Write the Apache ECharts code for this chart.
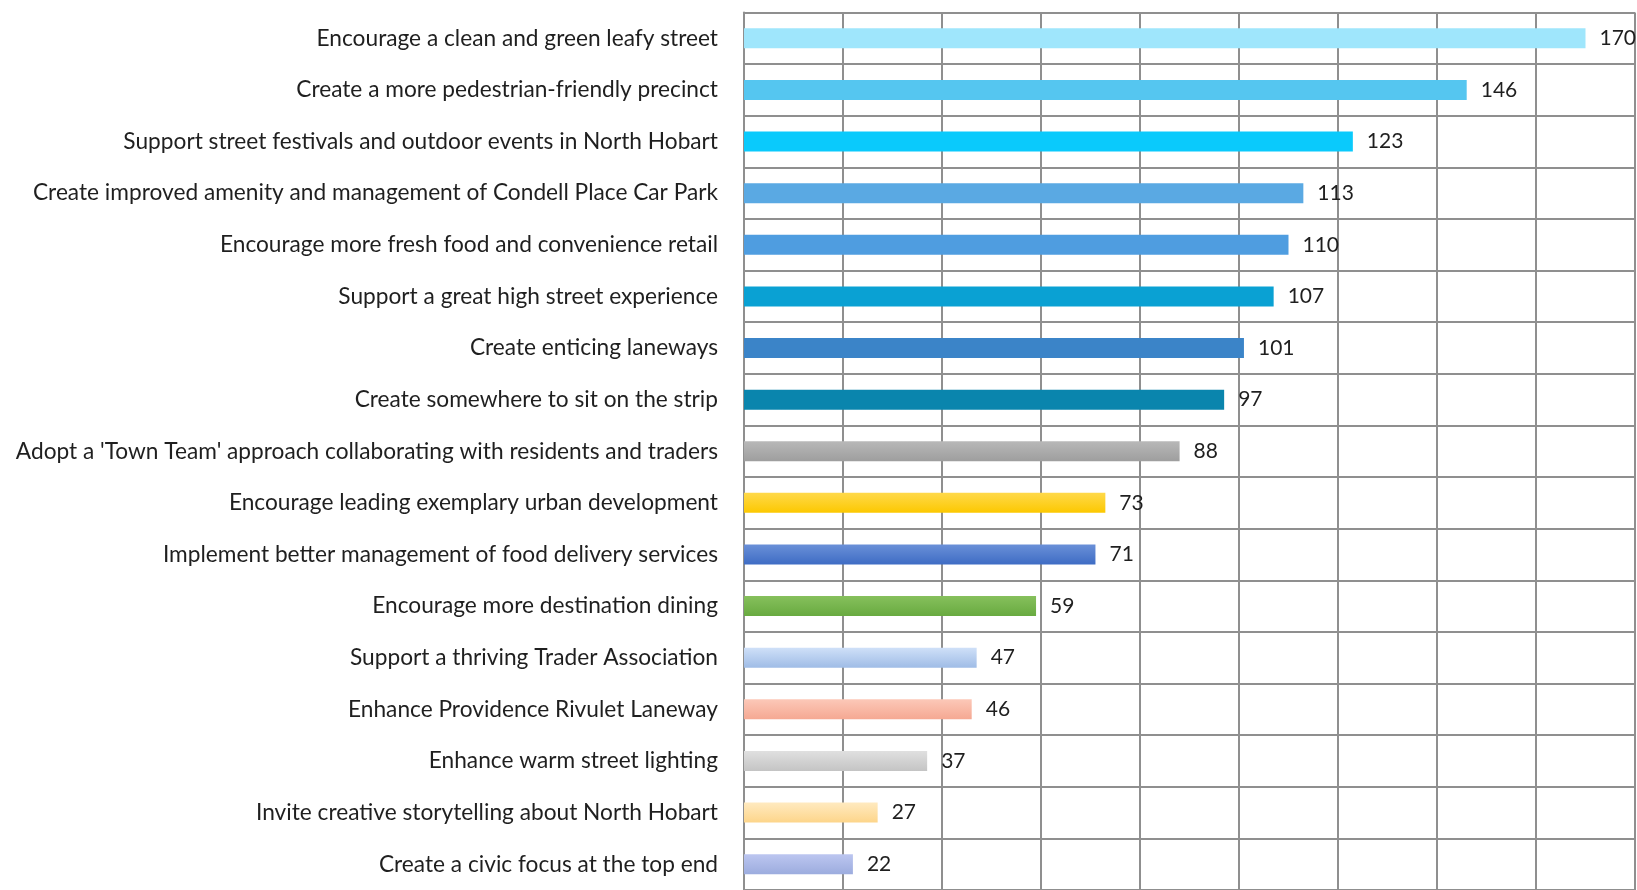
<!DOCTYPE html>
<html>
<head>
<meta charset="utf-8">
<script src="https://cdn.jsdelivr.net/npm/echarts@6/dist/echarts.min.js"></script>
<style>
  html, body { margin: 0; padding: 0; background: #ffffff; }
  #chart { width: 1637px; height: 890px; }
</style>
</head>
<body>
<div id="chart"></div>
<script>
// Priorities, listed top to bottom
const categories = [
  "Encourage a clean and green leafy street",
  "Create a more pedestrian-friendly precinct",
  "Support street festivals and outdoor events in North Hobart",
  "Create improved amenity and management of Condell Place Car Park",
  "Encourage more fresh food and convenience retail",
  "Support a great high street experience",
  "Create enticing laneways",
  "Create somewhere to sit on the strip",
  "Adopt a 'Town Team' approach collaborating with residents and traders",
  "Encourage leading exemplary urban development",
  "Implement better management of food delivery services",
  "Encourage more destination dining",
  "Support a thriving Trader Association",
  "Enhance Providence Rivulet Laneway",
  "Enhance warm street lighting",
  "Invite creative storytelling about North Hobart",
  "Create a civic focus at the top end"
];
const votes = [170, 146, 123, 113, 110, 107, 101, 97, 88, 73, 71, 59, 47, 46, 37, 27, 22];

// Bar fills: [top colour, bottom colour]
const barColors = [
  ["#9fe6fc", "#9fe6fc"],
  ["#55c6f0", "#55c6f0"],
  ["#0acafc", "#0acafc"],
  ["#5aa9e3", "#5aa9e3"],
  ["#4f9de0", "#4f9de0"],
  ["#0aa1d3", "#0aa1d3"],
  ["#3b84c8", "#3b84c8"],
  ["#0a85ad", "#0a85ad"],
  ["#b8b8b8", "#9e9e9e"],
  ["#ffd94a", "#fcc800"],
  ["#6a90d8", "#3e6cc4"],
  ["#86c05c", "#68aa40"],
  ["#cfe0f8", "#9fbce6"],
  ["#fcc8b8", "#f5a892"],
  ["#e0e0e0", "#c4c4c4"],
  ["#ffeac0", "#fdd58a"],
  ["#bcc6f0", "#9cacde"]
];

const gridColor = "#8f8f8f";
const font = "Lato, 'Open Sans', sans-serif";

const chart = echarts.init(document.getElementById("chart"));

chart.setOption({
  animation: false,
  grid: { left: 744, right: 2, top: 12.5, height: 880.4, containLabel: false },
  xAxis: {
    type: "value",
    min: 0,
    max: 180,
    interval: 20,
    axisLabel: { show: false },
    axisTick: { show: false },
    axisLine: { show: false },
    splitLine: { show: true, lineStyle: { color: gridColor, width: 2 } }
  },
  yAxis: {
    type: "category",
    data: categories,
    inverse: true,
    axisTick: { show: false },
    axisLine: { show: true, lineStyle: { color: gridColor, width: 2 } },
    splitLine: { show: true, lineStyle: { color: gridColor, width: 2 } },
    axisLabel: {
      margin: 26,
      fontFamily: font,
      fontSize: 22.7,
      color: "#1f1f1f"
    }
  },
  series: [{
    type: "bar",
    barWidth: 20,
    data: votes.map((v, i) => ({
      value: v,
      itemStyle: {
        color: new echarts.graphic.LinearGradient(0, 0, 0, 1, [
          { offset: 0, color: barColors[i][0] },
          { offset: 1, color: barColors[i][1] }
        ])
      }
    })),
    label: {
      show: true,
      position: "right",
      distance: 14,
      fontFamily: font,
      fontSize: 21,
      color: "#1f1f1f"
    }
  }]
});
</script>
</body>
</html>
